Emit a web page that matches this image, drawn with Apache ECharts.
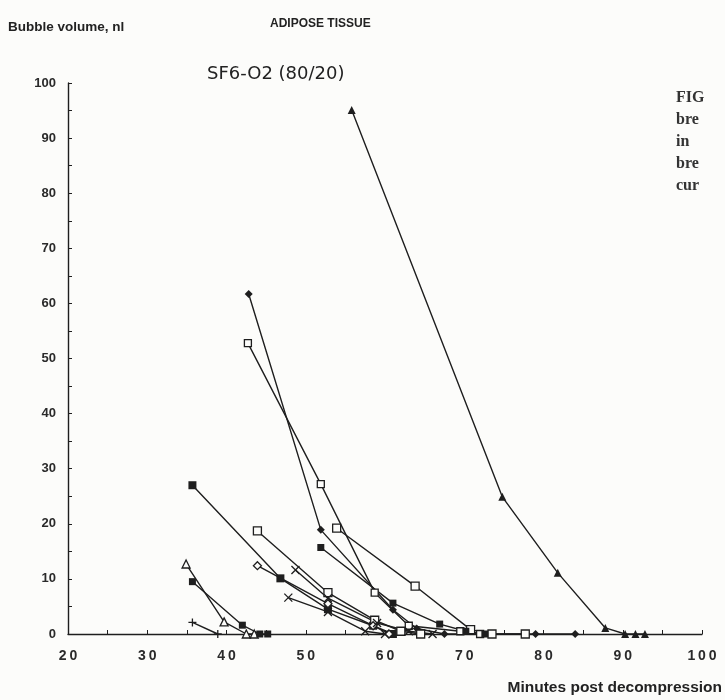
<!DOCTYPE html>
<html>
<head>
<meta charset="utf-8">
<script src="https://cdn.jsdelivr.net/npm/echarts@6/dist/echarts.min.js"></script>
<style>
  html, body { margin: 0; padding: 0; background: #fcfcfa; }
  #chart { width: 725px; height: 700px; }
</style>
</head>
<body>
<div id="chart"></div>
<script>
// bubble volume (nl) against minutes post decompression, one array per bubble
var bubbleTriFilled = [[55.8, 95.1], [74.8, 24.9], [81.8, 11.1], [87.8, 1.1], [90.3, 0], [91.6, 0], [92.8, 0]];
var bubbleDiamond1  = [[42.8, 61.7], [51.9, 18.9], [61.0, 4.4], [64.0, 1.0], [67.5, 0], [72.0, 0], [79.0, 0], [84.0, 0]];
var bubbleSqOpen1   = [[42.7, 52.8], [51.9, 27.2], [58.7, 7.5], [63.0, 1.5], [69.5, 0.5], [72.0, 0]];
var bubbleSqOpen2   = [[53.9, 19.2], [63.8, 8.7], [70.8, 0.8], [73.5, 0], [77.7, 0]];
var bubbleSqFilled1 = [[51.9, 15.7], [61.0, 5.6], [66.9, 1.8], [70.2, 0.5], [72.6, 0]];
var bubbleSqFilled2 = [[35.7, 27.0], [46.8, 10.1], [52.8, 4.5], [58.5, 1.5], [61.0, 0]];
var bubbleSqDot     = [[43.9, 18.7], [52.8, 7.5], [58.7, 2.5], [62.0, 0.5], [64.5, 0]];
var bubbleDiaOpen   = [[43.9, 12.4], [52.8, 5.5], [58.5, 1.5], [60.5, 0]];
var bubbleCross1    = [[48.7, 11.6], [52.8, 6.5], [59.0, 2.0], [63.0, 0.5], [66.0, 0]];
var bubbleCross2    = [[47.8, 6.6], [52.8, 4.0], [57.5, 0.5], [60.0, 0]];
var bubbleTriOpen   = [[34.9, 12.7], [39.7, 2.2], [42.5, 0], [43.5, 0]];
var bubbleSqFilled3 = [[35.7, 9.5], [42.0, 1.6], [44.2, 0], [45.2, 0]];
var bubblePlus      = [[35.7, 2.1], [38.9, 0]];

var xTicks = [20, 30, 40, 50, 60, 70, 80, 90, 100];
var yTicks = [0, 10, 20, 30, 40, 50, 60, 70, 80, 90, 100];

var ink = '#1e1e1e';
var crossPath = 'path://M0,0L10,10M10,0L0,10';
var plusPath = 'path://M5,0L5,10M0,5L10,5';

function mk(data, symbol, filled, size) {
    return {
        type: 'line',
        data: data,
        symbol: symbol,
        symbolSize: size || 7,
        showSymbol: true,
        lineStyle: { color: ink, width: 1.4 },
        itemStyle: {
            color: filled ? ink : '#fcfcfa',
            borderColor: ink,
            borderWidth: filled ? 0 : 1.3
        },
        z: 3
    };
}

function strokeOnly(data, path) {
    return {
        type: 'line',
        data: data,
        symbol: path,
        symbolSize: 8,
        lineStyle: { color: ink, width: 1.4 },
        itemStyle: { color: 'transparent', borderColor: ink, borderWidth: 1.3 },
        z: 3
    };
}

var chart = echarts.init(document.getElementById('chart'));

var serifFont = 'bold 16px "Liberation Serif", serif';

var option = {
    backgroundColor: '#fcfcfa',
    animation: false,
    grid: { left: 68, right: 23, top: 83, bottom: 66 },
    graphic: [
        { type: 'text', left: 8, top: 20, style: { text: 'Bubble volume, nl', font: 'bold 13.5px "Liberation Sans", Arial', fill: '#222' } },
        { type: 'text', left: 270, top: 18, style: { text: 'ADIPOSE TISSUE', font: 'bold 12px "Liberation Sans Narrow", "Liberation Sans", Arial', fill: '#222' } },
        { type: 'text', left: 207, top: 65, style: { text: 'SF6-O2 (80/20)', font: '18px "DejaVu Sans", "Liberation Sans"', fill: '#222' } },
        { type: 'text', right: 3, top: 680, style: { text: 'Minutes post decompression', font: 'bold 15.5px "Liberation Sans", Arial', fill: '#222', align: 'right' } },
        { type: 'text', left: 676, top: 90, style: { text: 'FIG', font: serifFont, fill: '#333' } },
        { type: 'text', left: 676, top: 112, style: { text: 'bre', font: serifFont, fill: '#333' } },
        { type: 'text', left: 676, top: 134, style: { text: 'in', font: serifFont, fill: '#333' } },
        { type: 'text', left: 676, top: 156, style: { text: 'bre', font: serifFont, fill: '#333' } },
        { type: 'text', left: 676, top: 178, style: { text: 'cur', font: serifFont, fill: '#333' } }
    ],
    xAxis: {
        type: 'value',
        min: xTicks[0],
        max: xTicks[xTicks.length - 1],
        interval: 10,
        axisLine: { lineStyle: { color: ink, width: 1.4 } },
        axisTick: { inside: true, length: 4, lineStyle: { color: ink } },
        minorTick: { show: true, splitNumber: 2, length: 4, lineStyle: { color: ink } },
        splitLine: { show: false },
        axisLabel: {
            color: '#2a2a2a',
            fontSize: 14,
            fontWeight: 'bold',
            fontFamily: '"Liberation Sans", Arial',
            margin: 15,
            formatter: function (v) { return String(v).split('').join('\u2009'); }
        }
    },
    yAxis: {
        type: 'value',
        min: yTicks[0],
        max: yTicks[yTicks.length - 1],
        interval: 10,
        axisLine: { show: true, lineStyle: { color: ink, width: 1.4 } },
        axisTick: { show: true, inside: true, length: 4, lineStyle: { color: ink } },
        minorTick: { show: true, splitNumber: 2, length: 4, lineStyle: { color: ink } },
        splitLine: { show: false },
        axisLabel: {
            color: '#2a2a2a',
            fontSize: 13,
            fontWeight: 'bold',
            fontFamily: '"Liberation Sans", Arial',
            margin: 12
        }
    },
    series: [
        mk(bubbleTriFilled, 'triangle', true, 8),
        mk(bubbleDiamond1, 'diamond', true, 8),
        mk(bubbleSqOpen1, 'rect', false, 7),
        mk(bubbleSqOpen2, 'rect', false, 8),
        mk(bubbleSqFilled1, 'rect', true, 7),
        mk(bubbleSqFilled2, 'rect', true, 8),
        mk(bubbleSqDot, 'rect', false, 8),
        mk(bubbleDiaOpen, 'diamond', false, 8),
        strokeOnly(bubbleCross1, crossPath),
        strokeOnly(bubbleCross2, crossPath),
        mk(bubbleTriOpen, 'triangle', false, 8),
        mk(bubbleSqFilled3, 'rect', true, 7),
        strokeOnly(bubblePlus, plusPath)
    ]
};

chart.setOption(option);
</script>
</body>
</html>
